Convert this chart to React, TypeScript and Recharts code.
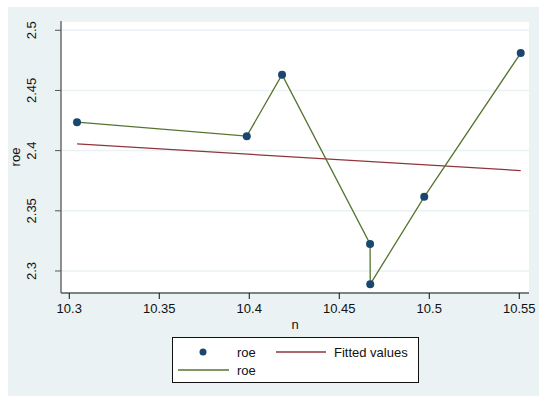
import React from "react";
import { ComposedChart, Scatter, Line, XAxis, YAxis, CartesianGrid, Label } from "recharts";

const nValues = [10.3043, 10.3986, 10.4182, 10.4671, 10.4672, 10.4972, 10.5508];
const roeValues = [2.4236, 2.412, 2.4631, 2.3224, 2.289, 2.3616, 2.4811];
const fittedN = [10.3043, 10.5508];
const fittedRoe = [2.4056, 2.3834];
const xTicks = [10.3, 10.35, 10.4, 10.45, 10.5, 10.55];
const yTicks = [2.3, 2.35, 2.4, 2.45, 2.5];
const xTickLabels = ["10.3", "10.35", "10.4", "10.45", "10.5", "10.55"];
const yTickLabels = ["2.3", "2.35", "2.4", "2.45", "2.5"];

const roeData = nValues.map((n, i) => ({ n, roe: roeValues[i] }));
const fitData = fittedN.map((n, i) => ({ n, fit: fittedRoe[i] }));

const FONT = "'Liberation Sans', Arial, Helvetica, sans-serif";
const BG = "#eaf2f3";
const NAVY = "#1a476f";
const MAROON = "#90353b";
const GREEN = "#55752f";

const YTick = (props: any) => {
  const { x, y, payload } = props;
  const idx = yTicks.findIndex((t) => Math.abs(t - payload.value) < 1e-9);
  const label = idx >= 0 ? yTickLabels[idx] : String(payload.value);
  const bx = x - 17;
  return (
    <text
      x={bx}
      y={y}
      transform={`rotate(-90, ${bx}, ${y})`}
      textAnchor="middle"
      fontSize={13}
      fontFamily={FONT}
      fill="#111"
    >
      {label}
    </text>
  );
};

const XTick = (props: any) => {
  const { x, y, payload } = props;
  const idx = xTicks.findIndex((t) => Math.abs(t - payload.value) < 1e-9);
  const label = idx >= 0 ? xTickLabels[idx] : String(payload.value);
  return (
    <text x={x} y={y + 12} textAnchor="middle" fontSize={13} fontFamily={FONT} fill="#111">
      {label}
    </text>
  );
};

const YLabel = (props: any) => {
  const vb = props.viewBox || {};
  const cy = (vb.y ?? 0) + (vb.height ?? 0) / 2;
  const bx = 12;
  return (
    <text
      x={bx}
      y={cy}
      transform={`rotate(-90, ${bx}, ${cy})`}
      textAnchor="middle"
      fontSize={13}
      fontFamily={FONT}
      fill="#111"
    >
      roe
    </text>
  );
};

export default function App() {
  return (
    <div
      style={{
        position: "absolute",
        left: 8,
        top: 7,
        width: 531,
        height: 389,
        background: BG,
        fontFamily: FONT,
      }}
    >
      <ComposedChart
        width={531}
        height={389}
        margin={{ top: 14, right: 10, left: 0, bottom: 63 }}
      >
        <CartesianGrid vertical={false} stroke={BG} strokeWidth={1.5} fill="#ffffff" />
        <XAxis
          dataKey="n"
          type="number"
          domain={[10.2954, 10.5554]}
          ticks={xTicks}
          allowDataOverflow
          height={40}
          tick={<XTick />}
          tickSize={6}
          tickLine={{ stroke: "#111" }}
          axisLine={{ stroke: "#111", strokeWidth: 1 }}
        >
          <Label value="n" position="insideBottom" offset={4} style={{ fontSize: 13, fontFamily: FONT, fill: "#111" }} />
        </XAxis>
        <YAxis
          type="number"
          domain={[2.2817, 2.5077]}
          ticks={yTicks}
          allowDataOverflow
          width={53}
          tick={<YTick />}
          tickSize={6}
          tickLine={{ stroke: "#555" }}
          axisLine={{ stroke: "#6b6b6b", strokeWidth: 1.5 }}
        >
          <Label content={<YLabel />} />
        </YAxis>
        <Line
          data={fitData}
          dataKey="fit"
          stroke={MAROON}
          strokeWidth={1.3}
          dot={false}
          isAnimationActive={false}
          legendType="none"
        />
        <Line
          data={roeData}
          dataKey="roe"
          stroke={GREEN}
          strokeWidth={1.3}
          dot={false}
          isAnimationActive={false}
          legendType="none"
        />
        <Scatter
          data={roeData}
          dataKey="roe"
          fill={NAVY}
          isAnimationActive={false}
          shape={(p: any) => <circle cx={p.cx} cy={p.cy} r={4} fill={NAVY} />}
        />
      </ComposedChart>
      <div
        style={{
          position: "absolute",
          left: 164,
          top: 330,
          width: 245,
          height: 44,
          background: "#fff",
          border: "1px solid #111",
          fontSize: 13,
          color: "#111",
        }}
      >
        <svg width={245} height={44} style={{ position: "absolute", left: 0, top: 0 }}>
          <circle cx={30} cy={14} r={3.5} fill={NAVY} />
          <text x={64} y={18.5} fontSize={13} fontFamily={FONT} fill="#111">roe</text>
          <line x1={103} x2={153} y1={14} y2={14} stroke={MAROON} strokeWidth={1.3} />
          <text x={161} y={18.5} fontSize={13} fontFamily={FONT} fill="#111">Fitted values</text>
          <line x1={5} x2={56} y1={32} y2={32} stroke={GREEN} strokeWidth={1.3} />
          <text x={64} y={36.5} fontSize={13} fontFamily={FONT} fill="#111">roe</text>
        </svg>
      </div>
    </div>
  );
}
